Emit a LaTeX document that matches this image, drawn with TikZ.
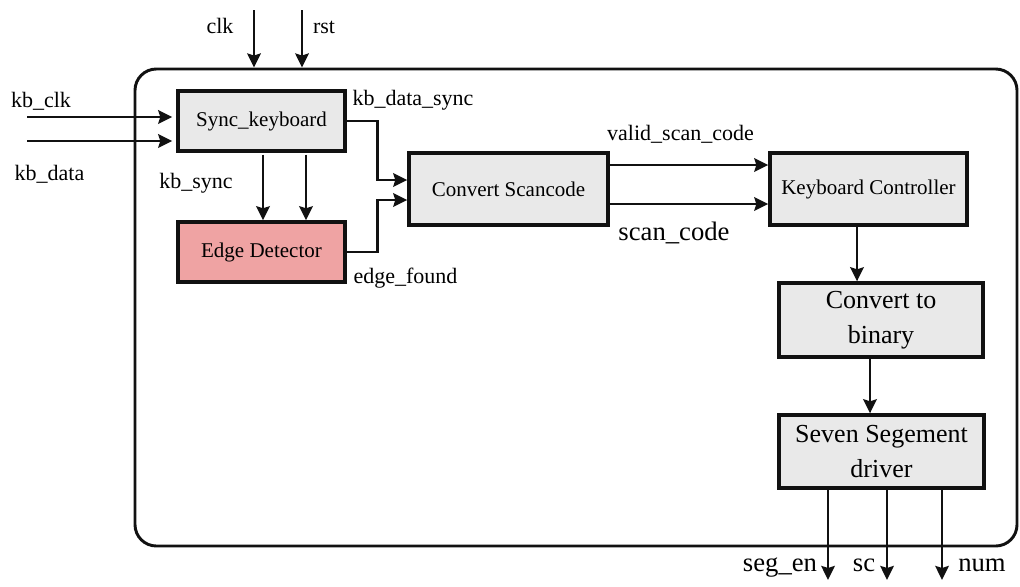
\documentclass[tikz,border=0pt]{standalone}
\usepackage{fontspec}
\setmainfont{Liberation Serif}
\usetikzlibrary{arrows.meta,calc}
\definecolor{boxgray}{HTML}{E9E9E9}
\definecolor{edgered}{HTML}{EFA3A3}
\definecolor{lineblk}{HTML}{111111}
\begin{document}
\begin{tikzpicture}[x=0.75pt,y=-0.75pt,
  blk/.style={draw=lineblk,line width=2.5pt,fill=boxgray,inner sep=0pt,align=center,font=\fontsize{15.75}{19}\selectfont},
  bigblk/.style={blk,font=\fontsize{19.5}{26}\selectfont},
  arr/.style={draw=lineblk,line width=2.2pt,-{Stealth[length=10.5pt,width=10pt,inset=1.5pt]}},
  lbl/.style={inner sep=0pt,anchor=base,font=\fontsize{16.5}{19}\selectfont},
  biglbl/.style={inner sep=0pt,anchor=base,font=\fontsize{20}{24}\selectfont}]
\useasboundingbox (0,0) rectangle (1020,586);
% outer frame
\node[draw=lineblk,line width=2.2pt,rounded corners=16pt,minimum width=882*0.75pt,minimum height=477*0.75pt,inner sep=0pt] (outer) at (576,307.5) {};
% blocks
\node[blk,minimum width=167*0.75pt,minimum height=60*0.75pt] (sync) at (261.5,121) {Sync\_keyboard};
\node[blk,fill=edgered,minimum width=167*0.75pt,minimum height=60*0.75pt] (edge) at (261.5,252) {Edge Detector};
\node[blk,minimum width=199*0.75pt,minimum height=72*0.75pt] (conv) at (508.5,189) {Convert Scancode};
\node[blk,minimum width=197*0.75pt,minimum height=72*0.75pt] (kc) at (868.5,189) {Keyboard Controller};
\node[bigblk,minimum width=204*0.75pt,minimum height=74*0.75pt] (bin) at (881,320) {Convert to\\binary};
\node[bigblk,minimum width=205*0.75pt,minimum height=73*0.75pt] (seven) at (881.5,451.5) {Seven Segement\\driver};
% inputs
\coordinate (clkin) at (254,10);
\coordinate (rstin) at (302,10);
\draw[arr] (clkin) -- (clkin |- outer.north);
\draw[arr] (rstin) -- (rstin |- outer.north);
\coordinate (kbclkin) at (27,117);
\coordinate (kbdatain) at (27,141);
\draw[arr] (kbclkin) -- ($(kbclkin -| sync.west)+(-4,0)$);
\draw[arr] (kbdatain) -- ($(kbdatain -| sync.west)+(-4,0)$);
% sync -> edge
\draw[arr] ($(sync.south)+(1.5,2)$) coordinate (s1) -- (s1 |- edge.north);
\draw[arr] ($(sync.south)+(44.5,2)$) coordinate (s2) -- (s2 |- edge.north);
% to convert scancode
\draw[arr] (sync.east) -- ++(31,0) |- ($(conv.west)+(0,-9)$);
\draw[arr] (edge.east) -- ++(31,0) |- ($(conv.west)+(0,11)$);
% convert -> kc
\draw[arr] ($(conv.east)+(0,-24)$) -- ($(kc.west)+(0,-24)$);
\draw[arr] ($(conv.east)+(0,15)$) -- ($(kc.west)+(0,15)$);
% kc -> bin -> seven
\draw[arr] ($(kc.south)+(-11.5,0)$) coordinate (k1) -- (k1 |- bin.north);
\draw[arr] ($(bin.south)+(-11,0)$) coordinate (b1) -- (b1 |- seven.north);
% outputs
\coordinate (o1) at (828,580);
\coordinate (o2) at (887,580);
\coordinate (o3) at (942,580);
\draw[arr] (o1 |- seven.south) -- (o1);
\draw[arr] (o2 |- seven.south) -- (o2);
\draw[arr] (o3 |- seven.south) -- (o3);
% labels
\node[lbl] (lclk) at (220,33) {clk};
\node[lbl] (lrst) at (324,33) {rst};
\node[lbl] (lkbclk) at (41,107) {kb\_clk};
\node[lbl] (lkbdata) at (49.5,180) {kb\_data};
\node[lbl] (lkbdatasync) at (413,105) {kb\_data\_sync};
\node[lbl] (lkbsync) at (196,188) {kb\_sync};
\node[lbl] (ledgefound) at (405.5,283) {edge\_found};
\node[lbl] (lvalid) at (680.5,140.5) {valid\_scan\_code};
\node[biglbl] (lscan) at (674,240) {scan\_code};
\node[biglbl] (lsegen) at (780,571.5) {seg\_en};
\node[biglbl] (lsc) at (864,571.5) {sc};
\node[biglbl] (lnum) at (982,571.5) {num};
\end{tikzpicture}
\end{document}
